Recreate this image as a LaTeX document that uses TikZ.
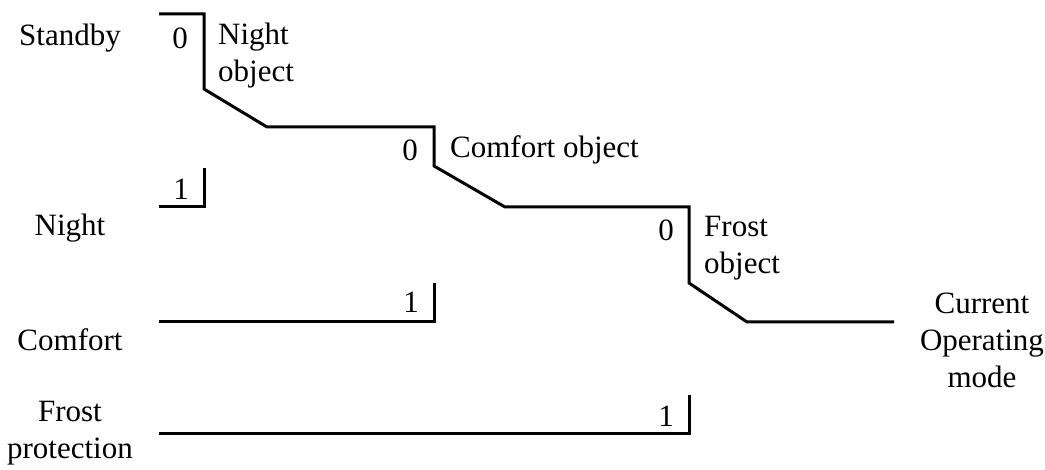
\documentclass[tikz,border=0pt]{standalone}
\usepackage{fontspec}
\setmainfont{Liberation Serif}
\usetikzlibrary{positioning}
\tikzset{
  wire/.style={line width=3pt, line join=miter},
  lbl/.style={inner sep=0pt, font=\fontsize{31}{37}\selectfont},
  side/.style={lbl, align=center},
  obj/.style={lbl, align=left, anchor=west}
}

\begin{document}
\begin{tikzpicture}[x=1pt, y=-1pt]
		%%%%% START %%%%%
		\useasboundingbox (0,0) rectangle (1045,470);
		
		% switch points
		\coordinate (sbA) at (159,14);
		\coordinate (sbB) at (204,14);
		\coordinate (swA) at (204,89);
		\coordinate (swB) at (267,127);
		\coordinate (swC) at (434,127);
		\coordinate (swD) at (434,166);
		\coordinate (swE) at (505,207);
		\coordinate (swF) at (689,207);
		\coordinate (swG) at (689,283);
		\coordinate (swH) at (747,322);
		\coordinate (out) at (894,322);
		
		\coordinate (niA) at (159,207);
		\coordinate (niB) at (204,207);
		\coordinate (niC) at (204,168);
		
		\coordinate (coA) at (159,322);
		\coordinate (coB) at (434,322);
		\coordinate (coC) at (434,283);
		
		\coordinate (frA) at (159,434);
		\coordinate (frB) at (689,434);
		\coordinate (frC) at (689,395);
		
		% wires
		\draw[wire] (sbA) -- (sbB) -- (swA) -- (swB) -- (swC) -- (swD) -- (swE) -- (swF) -- (swG) -- (swH) -- (out);
		\draw[wire] (niA) -- (niB) -- (niC);
		\draw[wire] (coA) -- (coB) -- (coC);
		\draw[wire] (frA) -- (frB) -- (frC);
		
		% inputs
		\node[side] (standby) at (70,38) {Standby};
		\node[side] (night) at (70,228) {Night};
		\node[side] (comfort) at (70,340) {Comfort};
		\node[side] (frost) at (70,433) {Frost\\protection};
		\node[side] (mode) at (982,340) {Current\\Operating\\mode};
		
		% switch positions
		\node[lbl] (zeroN) at (180,38) {0};
		\node[lbl] (zeroC) at (410,150) {0};
		\node[lbl] (zeroF) at (666,230) {0};
		\node[lbl] (oneN) at (181,189) {1};
		\node[lbl] (oneC) at (411,302) {1};
		\node[lbl] (oneF) at (666,416) {1};
		
		% objects
		\node[obj] (nightobj) at (218,56) {Night\\object};
		\node[obj] (comfortobj) at (450,150) {Comfort object};
		\node[obj] (frostobj) at (704,248) {Frost\\object};
		%%%%% END %%%%%
	\end{tikzpicture}
\end{document}
